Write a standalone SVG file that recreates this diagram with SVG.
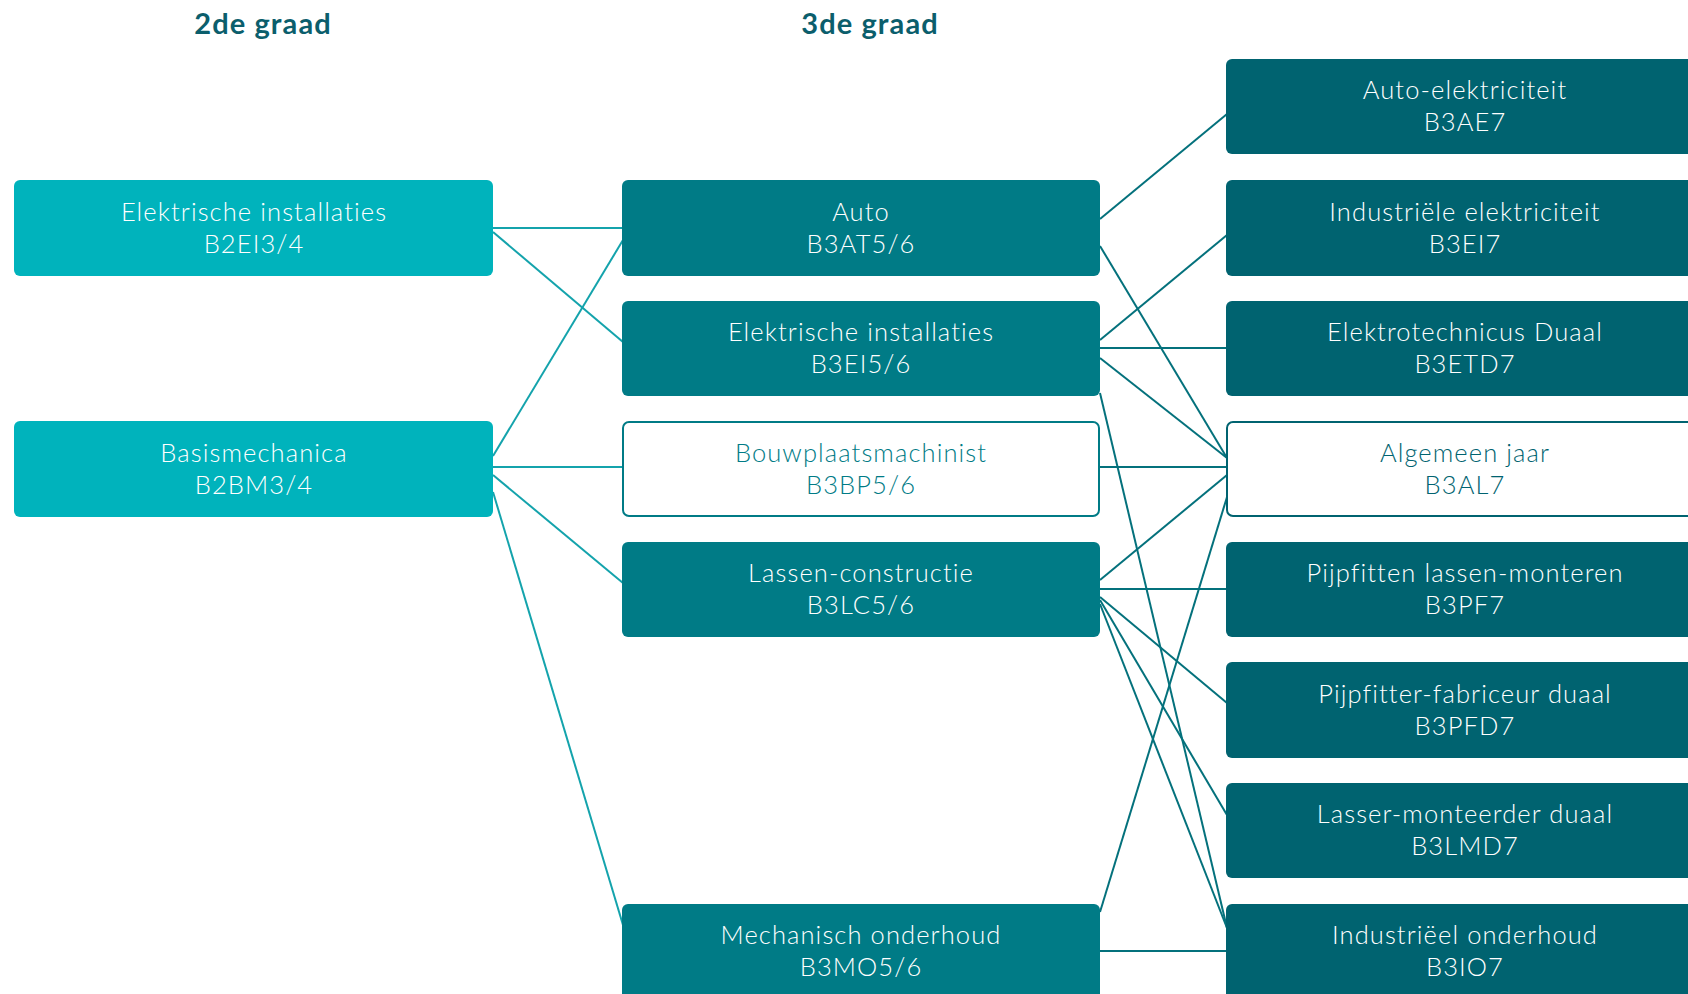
<svg xmlns="http://www.w3.org/2000/svg" width="1688" height="994" viewBox="0 0 1688 994">
<style>
.hdr{font-family:Lato,"Open Sans","Liberation Sans",sans-serif;font-weight:700;font-size:29px;letter-spacing:1.1px;fill:#0B5E6C;text-anchor:middle}
.t{font-family:Lato,"Open Sans","Liberation Sans",sans-serif;font-weight:300;font-size:25.5px;letter-spacing:1.1px;fill:#FFFFFF;text-anchor:middle}
.b2{fill:#00B3BC}
.b3{fill:#007B86}
.b7{fill:#006370}
.w3{fill:#FFFFFF;stroke:#007B86;stroke-width:2}
.w7{fill:#FFFFFF;stroke:#006370;stroke-width:2}
.tw3{fill:#007B86}
.tw7{fill:#006370}
.cl{stroke:#14A3AC;stroke-width:2;fill:none}
.cr{stroke:#04717C;stroke-width:2;fill:none}
</style>
<rect width="1688" height="994" fill="#FFFFFF"/>
<text class="hdr" x="263" y="34">2de graad</text>
<text class="hdr" x="870" y="34">3de graad</text>
<g id="connectors">
<line class="cl" x1="493" y1="228" x2="623" y2="228"/>
<line class="cl" x1="493" y1="232" x2="623" y2="342"/>
<line class="cl" x1="493" y1="456" x2="623" y2="240"/>
<line class="cl" x1="493" y1="467" x2="623" y2="467"/>
<line class="cl" x1="493" y1="475" x2="623" y2="583"/>
<line class="cl" x1="493" y1="492" x2="623" y2="925"/>
<line class="cr" x1="1100" y1="219" x2="1227" y2="114"/>
<line class="cr" x1="1100" y1="246" x2="1227" y2="458"/>
<line class="cr" x1="1100" y1="340" x2="1227" y2="235"/>
<line class="cr" x1="1100" y1="348" x2="1227" y2="348"/>
<line class="cr" x1="1100" y1="358" x2="1227" y2="458"/>
<line class="cr" x1="1100" y1="393" x2="1227" y2="928"/>
<line class="cr" x1="1100" y1="467" x2="1227" y2="467"/>
<line class="cr" x1="1100" y1="580" x2="1227" y2="475"/>
<line class="cr" x1="1100" y1="589" x2="1227" y2="589"/>
<line class="cr" x1="1100" y1="597" x2="1227" y2="703"/>
<line class="cr" x1="1100" y1="600" x2="1227" y2="815"/>
<line class="cr" x1="1100" y1="604" x2="1227" y2="928"/>
<line class="cr" x1="1100" y1="912" x2="1227" y2="497"/>
<line class="cr" x1="1100" y1="951" x2="1227" y2="951"/>
</g>
<g id="n-b2ei34"><rect class="b2" x="14" y="180" width="479" height="96" rx="6"/><text class="t" x="254" y="221">Elektrische installaties</text><text class="t" x="254" y="253">B2EI3/4</text></g>
<g id="n-b2bm34"><rect class="b2" x="14" y="421" width="479" height="96" rx="6"/><text class="t" x="254" y="462">Basismechanica</text><text class="t" x="254" y="494">B2BM3/4</text></g>
<g id="n-b3at56"><rect class="b3" x="622" y="180" width="478" height="96" rx="6"/><text class="t" x="861" y="221">Auto</text><text class="t" x="861" y="253">B3AT5/6</text></g>
<g id="n-b3ei56"><rect class="b3" x="622" y="301" width="478" height="95" rx="6"/><text class="t" x="861" y="341">Elektrische installaties</text><text class="t" x="861" y="373">B3EI5/6</text></g>
<g id="n-b3bp56"><rect class="w3" x="623" y="422" width="476" height="94" rx="6"/><text class="t tw3" x="861" y="462">Bouwplaatsmachinist</text><text class="t tw3" x="861" y="494">B3BP5/6</text></g>
<g id="n-b3lc56"><rect class="b3" x="622" y="542" width="478" height="95" rx="6"/><text class="t" x="861" y="582">Lassen-constructie</text><text class="t" x="861" y="614">B3LC5/6</text></g>
<g id="n-b3mo56"><rect class="b3" x="622" y="904" width="478" height="100" rx="6"/><text class="t" x="861" y="944">Mechanisch onderhoud</text><text class="t" x="861" y="976">B3MO5/6</text></g>
<g id="n-b3ae7"><rect class="b7" x="1226" y="59" width="480" height="95" rx="6"/><text class="t" x="1465" y="99">Auto-elektriciteit</text><text class="t" x="1465" y="131">B3AE7</text></g>
<g id="n-b3ei7"><rect class="b7" x="1226" y="180" width="480" height="96" rx="6"/><text class="t" x="1465" y="221">Industriële elektriciteit</text><text class="t" x="1465" y="253">B3EI7</text></g>
<g id="n-b3etd7"><rect class="b7" x="1226" y="301" width="480" height="95" rx="6"/><text class="t" x="1465" y="341">Elektrotechnicus Duaal</text><text class="t" x="1465" y="373">B3ETD7</text></g>
<g id="n-b3al7"><rect class="w7" x="1227" y="422" width="480" height="94" rx="6"/><text class="t tw7" x="1465" y="462">Algemeen jaar</text><text class="t tw7" x="1465" y="494">B3AL7</text></g>
<g id="n-b3pf7"><rect class="b7" x="1226" y="542" width="480" height="95" rx="6"/><text class="t" x="1465" y="582">Pijpfitten lassen-monteren</text><text class="t" x="1465" y="614">B3PF7</text></g>
<g id="n-b3pfd7"><rect class="b7" x="1226" y="662" width="480" height="96" rx="6"/><text class="t" x="1465" y="703">Pijpfitter-fabriceur duaal</text><text class="t" x="1465" y="735">B3PFD7</text></g>
<g id="n-b3lmd7"><rect class="b7" x="1226" y="783" width="480" height="95" rx="6"/><text class="t" x="1465" y="823">Lasser-monteerder duaal</text><text class="t" x="1465" y="855">B3LMD7</text></g>
<g id="n-b3io7"><rect class="b7" x="1226" y="904" width="480" height="100" rx="6"/><text class="t" x="1465" y="944">Industriëel onderhoud</text><text class="t" x="1465" y="976">B3IO7</text></g>
</svg>
